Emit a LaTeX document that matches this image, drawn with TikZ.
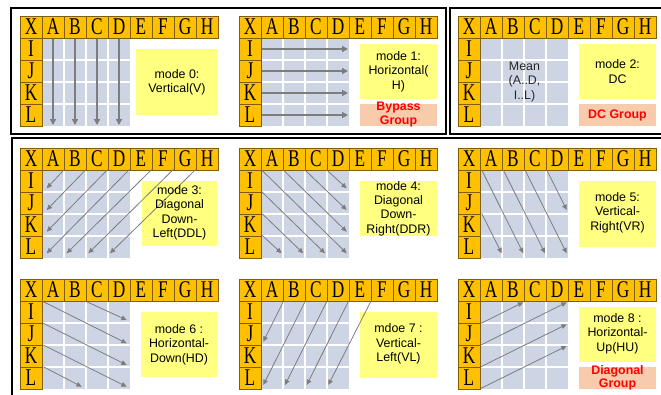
\documentclass[tikz,border=0pt]{standalone}
\usepackage{graphicx}
\usepackage{fontspec}
\setmainfont{Liberation Sans}
\newfontfamily\hdrfont{Liberation Serif}
\usetikzlibrary{arrows.meta}
\definecolor{hdrfill}{RGB}{255,192,0}
\definecolor{hdrline}{RGB}{127,96,0}
\definecolor{cellgray}{RGB}{205,213,228}
\definecolor{boxyellow}{RGB}{255,255,128}
\definecolor{boxpink}{RGB}{248,203,173}
\definecolor{arrgray}{RGB}{125,125,125}
\definecolor{grpred}{RGB}{255,0,0}
\newcommand\hl[1]{\scalebox{0.72}[1]{#1}}
\tikzset{
  hcell/.style={draw=hdrline, fill=hdrfill, minimum width=16.5pt, minimum height=16.5pt,
    inner sep=0pt, line width=0.5pt, font=\hdrfont\fontsize{18}{18}\selectfont},
  lbl/.style={align=center, inner sep=0pt, font=\fontsize{9.3}{10.8}\selectfont, text=black},
  grp/.style={align=center, inner sep=0pt, font=\bfseries\fontsize{9.3}{10.4}\selectfont, text=grpred},
  varr/.style={draw=arrgray, line width=1.5pt, -{Triangle[length=4.5pt,width=4.5pt]}},
  darr/.style={draw=arrgray, line width=0.6pt, -{Triangle[length=4pt,width=3.5pt]}},
  framebox/.style={draw=black, line width=1.5pt},
}
\newcommand\panelgrid{%
  \fill[cellgray] (22,22) rectangle (110,110);
  \foreach \v in {44,66,88} {
    \draw[white,line width=1pt] (\v,22) -- (\v,110);
    \draw[white,line width=1pt] (22,\v) -- (110,\v);
  }
  \foreach \c/\t in {0/X,1/A,2/B,3/C,4/D,5/E,6/F,7/G,8/H}
    \node[hcell] (h\t) at (\c*22+11,11) {\hl{\t}};
  \foreach \r/\t in {1/I,2/J,3/K,4/L}
    \node[hcell] (h\t) at (11,\r*22+11) {\hl{\t}};
}
\begin{document}
\begin{tikzpicture}[x=0.75pt,y=-0.75pt]
\clip (0,0) rectangle (661,394);
\fill[white] (0,0) rectangle (661,394);

% frames
\draw[framebox] (10.5,7.5) rectangle (445.5,134);
\draw[framebox] (449.5,7.5) rectangle (675,134);
\draw[framebox] (11.5,137.5) rectangle (675,410);

% boxes
\fill[boxyellow] (136,49) rectangle (218,115);
\fill[boxyellow] (360,44) rectangle (437,99);
\fill[boxpink] (360,104) rectangle (437,126);
\fill[boxyellow] (579,44) rectangle (656,99);
\fill[boxpink] (579,104) rectangle (656,126);
\fill[boxyellow] (142,181) rectangle (217,246);
\fill[boxyellow] (360,181) rectangle (437,236);
\fill[boxyellow] (579,181) rectangle (656,247);
\fill[boxyellow] (141,312) rectangle (217,377);
\fill[boxyellow] (360,312) rectangle (437,378);
\fill[boxyellow] (579,307) rectangle (656,362);
\fill[boxpink] (579,367) rectangle (656,389);

% mode 0
\begin{scope}[shift={(20,16)}, name prefix=p0-]
  \panelgrid
  \foreach \x in {33,55,77,99} \draw[varr] (\x,23) -- (\x,109);
\end{scope}
% mode 1
\begin{scope}[shift={(239,16)}, name prefix=p1-]
  \panelgrid
  \foreach \y in {33,55,77,99} \draw[varr] (23,\y) -- (109,\y);
\end{scope}
% mode 2
\begin{scope}[shift={(458,16)}, name prefix=p2-]
  \panelgrid
  \node[lbl, font=\fontsize{9.3}{11.2}\selectfont, text=black!85] (mean) at (66.5,66) {Mean\\(A..D,\\I..L)};
\end{scope}
% mode 3
\begin{scope}[shift={(20,148)}, name prefix=p3-]
  \panelgrid
  \draw[darr] (44.3,21.5) -- (26.7,40.3);
  \draw[darr] (66,21.5) -- (26.7,62);
  \draw[darr] (87.7,21.5) -- (26.7,83.7);
  \draw[darr] (109.3,21.5) -- (26.7,105.3);
  \draw[darr] (131.7,21.5) -- (46.7,105.3);
  \draw[darr] (153.3,21.5) -- (68.3,105.3);
  \draw[darr] (175.7,21.5) -- (90,105.3);
\end{scope}
% mode 4
\begin{scope}[shift={(239,148)}, name prefix=p4-]
  \panelgrid
  \draw[darr] (22.7,22) -- (107.7,105.3);
  \draw[darr] (44.3,22) -- (107.7,83.7);
  \draw[darr] (66,22) -- (107.7,62);
  \draw[darr] (87.7,22) -- (107.7,40.3);
  \draw[darr] (22.7,43.7) -- (86,105.3);
  \draw[darr] (22.7,65.3) -- (64.3,105.3);
  \draw[darr] (22.7,87) -- (42.7,105.3);
\end{scope}
% mode 5
\begin{scope}[shift={(458,148)}, name prefix=p5-]
  \panelgrid
  \draw[darr] (23.7,22) -- (65.3,105.3);
  \draw[darr] (45.3,22) -- (87,105.3);
  \draw[darr] (67,22) -- (108.7,105.3);
  \draw[darr] (88.7,22) -- (108.7,62);
  \draw[darr] (23.7,65.3) -- (43.7,105.3);
\end{scope}
% mode 6
\begin{scope}[shift={(20,279)}, name prefix=p6-]
  \panelgrid
  \draw[darr] (23.3,22.7) -- (106.7,64.3);
  \draw[darr] (66.7,22.7) -- (106.7,41);
  \draw[darr] (23.3,44.3) -- (106.7,86);
  \draw[darr] (23.3,66) -- (106.7,107.7);
  \draw[darr] (23.3,87.7) -- (61.7,107.7);
\end{scope}
% mode 7
\begin{scope}[shift={(239,279)}, name prefix=p7-]
  \panelgrid
  \draw[darr] (44.3,22.7) -- (24.3,62.7);
  \draw[darr] (66,22.7) -- (24.3,106);
  \draw[darr] (87.7,22.7) -- (46,106);
  \draw[darr] (109.3,22.7) -- (67.7,106);
  \draw[darr] (131.7,22.7) -- (89.3,106);
\end{scope}
% mode 8
\begin{scope}[shift={(458,279)}, name prefix=p8-]
  \panelgrid
  \draw[darr] (23,44.3) -- (65.3,23.3);
  \draw[darr] (23,66) -- (108.7,23.3);
  \draw[darr] (23,87.7) -- (108.7,45.3);
  \draw[darr] (23,109.3) -- (108.7,67);
\end{scope}

% labels
\node[lbl] (t0) at (177,82) {mode 0:\\Vertical(V)};
\node[lbl] (t1) at (398.5,71.5) {mode 1:\\Horizontal(\\H)};
\node[grp] (g1) at (398.5,114.5) {Bypass\\Group};
\node[lbl] (t2) at (617.5,71.5) {mode 2:\\DC};
\node[grp] (g2) at (617.5,115) {DC Group};
\node[lbl] (t3) at (179.5,212.8) {mode 3:\\Diagonal\\Down-\\Left(DDL)};
\node[lbl] (t4) at (398.5,208.5) {mode 4:\\Diagonal\\Down-\\Right(DDR)};
\node[lbl] (t5) at (617.5,212.5) {mode 5:\\Vertical-\\Right(VR)};
\node[lbl] (t6) at (179,344.5) {mode 6 :\\Horizontal-\\Down(HD)};
\node[lbl] (t7) at (398.5,344) {mdoe 7 :\\Vertical-\\Left(VL)};
\node[lbl] (t8) at (617.5,333.5) {mode 8 :\\Horizontal-\\Up(HU)};
\node[grp] (g3) at (617.5,377.8) {Diagonal\\Group};
\end{tikzpicture}
\end{document}
